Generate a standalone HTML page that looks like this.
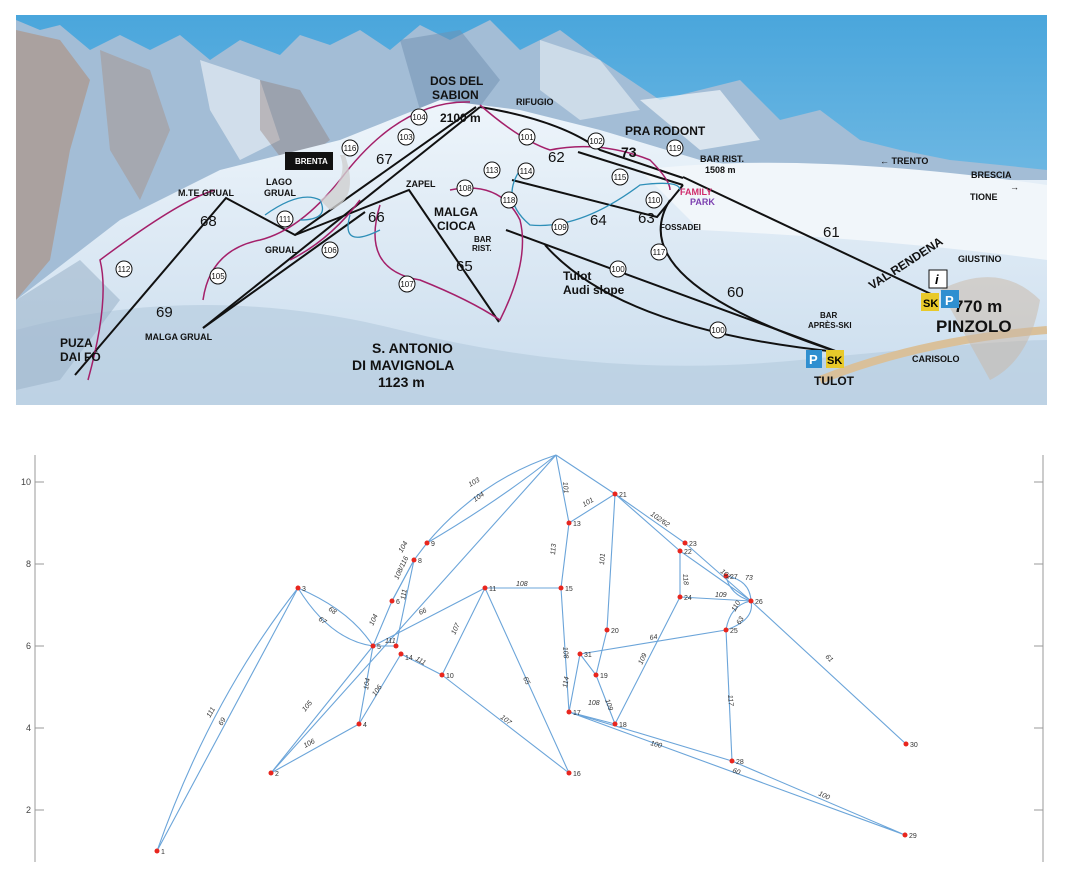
<!DOCTYPE html>
<html><head><meta charset="utf-8"><style>
body{margin:0;background:#fff;width:1082px;height:886px;overflow:hidden;font-family:"Liberation Sans",sans-serif}
svg{position:absolute;left:0;top:0}
</style></head><body>
<svg width="1082" height="886" viewBox="0 0 1082 886" xmlns="http://www.w3.org/2000/svg">
<defs>
<linearGradient id="sky" x1="0" y1="0" x2="0" y2="1"><stop offset="0" stop-color="#4aa6dc"/><stop offset="1" stop-color="#9fd0ec"/></linearGradient>
<linearGradient id="snow" x1="0" y1="0" x2="0" y2="1"><stop offset="0" stop-color="#eef5fb"/><stop offset="1" stop-color="#c9dced"/></linearGradient>
<clipPath id="pc"><rect x="16" y="15" width="1031" height="390"/></clipPath>
</defs>
<g clip-path="url(#pc)">
<rect x="16" y="15" width="1031" height="390" fill="url(#sky)"/>
<path d="M16,20 L40,30 60,25 90,50 120,35 150,50 180,35 210,60 240,40 280,55 300,35 330,45 360,30 390,50 420,25 450,40 490,20 520,50 560,30 600,60 630,80 660,100 700,90 740,80 780,120 820,110 860,140 900,150 950,160 1000,165 1047,170 L1047,405 16,405Z" fill="#a3bdd6"/>
<path d="M16,30 L60,40 90,80 70,150 50,260 16,300Z" fill="#b08a72" opacity=".55"/>
<path d="M100,50 L150,70 170,130 140,200 110,150Z" fill="#a88a78" opacity=".4"/>
<path d="M200,60 L260,80 280,140 240,160 210,110Z" fill="#fff" opacity=".5"/>
<path d="M260,80 L300,90 330,140 290,170 260,130Z" fill="#8d6f63" opacity=".35"/>
<path d="M400,40 L460,30 500,80 470,120 420,110Z" fill="#6f8fb0" opacity=".5"/>
<path d="M540,40 L600,60 640,110 580,120 540,90Z" fill="#fff" opacity=".45"/>
<path d="M640,100 L720,90 760,140 700,150Z" fill="#fff" opacity=".6"/>
<path d="M16,300 L120,220 220,170 340,140 440,100 520,110 600,130 700,160 800,175 900,180 1047,180 L1047,405 16,405Z" fill="url(#snow)"/>
<path d="M640,170 Q800,150 1047,185 L1047,260 Q900,240 700,230Z" fill="#f1f6fa"/>
<path d="M16,330 Q200,280 400,330 T800,360 1047,340 L1047,405 16,405Z" fill="#b8cde0" opacity=".7"/>
<path d="M16,300 L80,260 120,300 60,380 16,390Z" fill="#9fb6cc" opacity=".6"/>
<path d="M820,380 Q920,340 1047,330" stroke="#d9c09a" stroke-width="8" fill="none"/>
<path d="M940,290 Q1000,260 1040,300 1030,360 990,380" fill="#c9b7a6" opacity=".5"/>
<g stroke="#111" stroke-width="2" fill="none">
<path d="M75,375 L226,198 L295,235 L476,107"/>
<path d="M203,328 L480,107"/>
<path d="M203,328 L365,212"/>
<path d="M295,235 L409,190 L499,322"/>
<path d="M480,107 Q560,120 600,150 L683,178"/>
<path d="M578,152 L683,185"/>
<path d="M512,180 L657,217 L683,185"/>
<path d="M683,177 L933,295"/>
<path d="M506,230 L838,352"/>
<path d="M545,245 Q620,330 838,352"/>
<path d="M670,200 Q620,280 838,352"/>
</g>
<g stroke="#a4206a" stroke-width="1.5" fill="none">
<path d="M88,380 Q110,300 100,260 Q180,200 215,190"/>
<path d="M203,300 Q210,250 260,240 Q300,230 340,180 Q400,100 470,102"/>
<path d="M380,205 Q360,270 420,280 Q470,300 500,320 Q530,260 520,220 Q500,180 450,190"/>
<path d="M480,105 Q520,140 550,150 Q600,140 650,160 Q670,180 670,190"/>
<path d="M290,260 Q330,240 360,200"/>
</g>
<g stroke="#2e8fb8" stroke-width="1.3" fill="none">
<path d="M265,215 Q300,190 320,200 Q330,220 300,220"/>
<path d="M350,215 Q340,250 380,230"/>
<path d="M520,170 Q500,200 530,225 Q580,230 640,185 Q680,180 680,190"/>
</g>
<path d="M345,155 Q360,200 330,210 L320,200 Q350,180 340,155Z" fill="#cfcfcf" opacity=".8"/>
<rect x="285" y="152" width="48" height="18" fill="#111"/>
<text x="295" y="164" font-size="8" fill="#fff" font-weight="bold">BRENTA</text>
<g font-weight="bold" fill="#111" font-size="12">
<text x="430" y="85">DOS DEL</text><text x="432" y="99">SABION</text><text x="440" y="122">2100 m</text>
<text x="516" y="105" font-size="9">RIFUGIO</text>
<text x="625" y="135">PRA RODONT</text>
<text x="700" y="162" font-size="9">BAR RIST.</text><text x="705" y="173" font-size="9">1508 m</text>
<text x="621" y="157" font-size="14">73</text>
<text x="434" y="216">MALGA</text><text x="437" y="230">CIOCA</text>
<text x="474" y="242" font-size="8">BAR</text><text x="472" y="251" font-size="8">RIST.</text>
<text x="406" y="187" font-size="9">ZAPEL</text>
<text x="178" y="196" font-size="9">M.TE GRUAL</text>
<text x="266" y="185" font-size="9">LAGO</text><text x="264" y="196" font-size="9">GRUAL</text>
<text x="265" y="253" font-size="9">GRUAL</text>
<text x="145" y="340" font-size="9">MALGA GRUAL</text>
<text x="60" y="347">PUZA</text><text x="60" y="361">DAI FÒ</text>
<text x="372" y="353" font-size="14">S. ANTONIO</text><text x="352" y="370" font-size="14">DI MAVIGNOLA</text><text x="378" y="387" font-size="14">1123 m</text>
<text x="563" y="280">Tulot</text><text x="563" y="294">Audi slope</text>
<text x="660" y="230" font-size="8">FOSSADEI</text>
<text x="880" y="164" font-size="9">← TRENTO</text>
<text x="971" y="178" font-size="9">BRESCIA</text><text x="1010" y="190" font-size="9">→</text>
<text x="970" y="200" font-size="9">TIONE</text>
<text x="958" y="262" font-size="9">GIUSTINO</text>
<text x="954" y="312" font-size="17">770 m</text>
<text x="936" y="332" font-size="17">PINZOLO</text>
<text x="912" y="362" font-size="9">CARISOLO</text>
<text x="820" y="318" font-size="8">BAR</text><text x="808" y="328" font-size="8">APRÈS-SKI</text>
<text x="814" y="385">TULOT</text>
<text x="872" y="290" font-size="12" transform="rotate(-33 872 290)">VAL RENDENA</text>
<text x="200" y="226" font-size="15" font-weight="normal">68</text>
<text x="156" y="317" font-size="15" font-weight="normal">69</text>
<text x="376" y="164" font-size="15" font-weight="normal">67</text>
<text x="368" y="222" font-size="15" font-weight="normal">66</text>
<text x="456" y="271" font-size="15" font-weight="normal">65</text>
<text x="548" y="162" font-size="15" font-weight="normal">62</text>
<text x="590" y="225" font-size="15" font-weight="normal">64</text>
<text x="638" y="223" font-size="15" font-weight="normal">63</text>
<text x="823" y="237" font-size="15" font-weight="normal">61</text>
<text x="727" y="297" font-size="15" font-weight="normal">60</text>
</g>
<text x="680" y="195" font-size="9" font-weight="bold" fill="#d02c6c">FAMILY</text>
<text x="690" y="205" font-size="9" font-weight="bold" fill="#7c3fb0">PARK</text>
<rect x="921" y="293" width="18" height="18" fill="#e8c92a"/><text x="923" y="307" font-size="11" font-weight="bold">SK</text>
<rect x="941" y="290" width="18" height="18" fill="#2f8fd0"/><text x="945" y="305" font-size="13" font-weight="bold" fill="#fff">P</text>
<rect x="929" y="270" width="18" height="18" fill="#fff" stroke="#111"/><text x="935" y="284" font-size="13" font-weight="bold" font-style="italic">i</text>
<rect x="806" y="350" width="16" height="18" fill="#2f8fd0"/><text x="809" y="364" font-size="13" font-weight="bold" fill="#fff">P</text>
<rect x="826" y="350" width="18" height="18" fill="#e8c92a"/><text x="827" y="364" font-size="11" font-weight="bold">SK</text>
<g fill="#fff" stroke="#111" stroke-width="1" font-size="8" text-anchor="middle">
<g><circle cx="124" cy="269" r="8"/><text x="124" y="272" stroke="none" fill="#111">112</text></g>
<g><circle cx="285" cy="219" r="8"/><text x="285" y="222" stroke="none" fill="#111">111</text></g>
<g><circle cx="218" cy="276" r="8"/><text x="218" y="279" stroke="none" fill="#111">105</text></g>
<g><circle cx="330" cy="250" r="8"/><text x="330" y="253" stroke="none" fill="#111">106</text></g>
<g><circle cx="407" cy="284" r="8"/><text x="407" y="287" stroke="none" fill="#111">107</text></g>
<g><circle cx="406" cy="137" r="8"/><text x="406" y="140" stroke="none" fill="#111">103</text></g>
<g><circle cx="419" cy="117" r="8"/><text x="419" y="120" stroke="none" fill="#111">104</text></g>
<g><circle cx="350" cy="148" r="8"/><text x="350" y="151" stroke="none" fill="#111">116</text></g>
<g><circle cx="465" cy="188" r="8"/><text x="465" y="191" stroke="none" fill="#111">108</text></g>
<g><circle cx="492" cy="170" r="8"/><text x="492" y="173" stroke="none" fill="#111">113</text></g>
<g><circle cx="527" cy="137" r="8"/><text x="527" y="140" stroke="none" fill="#111">101</text></g>
<g><circle cx="596" cy="141" r="8"/><text x="596" y="144" stroke="none" fill="#111">102</text></g>
<g><circle cx="526" cy="171" r="8"/><text x="526" y="174" stroke="none" fill="#111">114</text></g>
<g><circle cx="509" cy="200" r="8"/><text x="509" y="203" stroke="none" fill="#111">118</text></g>
<g><circle cx="560" cy="227" r="8"/><text x="560" y="230" stroke="none" fill="#111">109</text></g>
<g><circle cx="620" cy="177" r="8"/><text x="620" y="180" stroke="none" fill="#111">115</text></g>
<g><circle cx="675" cy="148" r="8"/><text x="675" y="151" stroke="none" fill="#111">119</text></g>
<g><circle cx="654" cy="200" r="8"/><text x="654" y="203" stroke="none" fill="#111">110</text></g>
<g><circle cx="659" cy="252" r="8"/><text x="659" y="255" stroke="none" fill="#111">117</text></g>
<g><circle cx="618" cy="269" r="8"/><text x="618" y="272" stroke="none" fill="#111">100</text></g>
<g><circle cx="718" cy="330" r="8"/><text x="718" y="333" stroke="none" fill="#111">100</text></g>
</g>
</g>

<!-- graph -->
<g stroke="#bbb" stroke-width="1.5"><line x1="35" y1="455" x2="35" y2="862"/><line x1="1043" y1="455" x2="1043" y2="862"/></g>
<g stroke="#999"><line x1="35" y1="482" x2="44" y2="482"/><line x1="35" y1="564" x2="44" y2="564"/><line x1="35" y1="646" x2="44" y2="646"/><line x1="35" y1="728" x2="44" y2="728"/><line x1="35" y1="810" x2="44" y2="810"/>
<line x1="1034" y1="482" x2="1043" y2="482"/><line x1="1034" y1="564" x2="1043" y2="564"/><line x1="1034" y1="646" x2="1043" y2="646"/><line x1="1034" y1="728" x2="1043" y2="728"/><line x1="1034" y1="810" x2="1043" y2="810"/></g>
<g font-size="9" fill="#444" text-anchor="end"><text x="31" y="485">10</text><text x="31" y="567">8</text><text x="31" y="649">6</text><text x="31" y="731">4</text><text x="31" y="813">2</text></g>
<g stroke="#5b9bd5" stroke-width="1.1" fill="none" opacity=".9">
<path d="M157,851 Q210,700 298,588"/><path d="M157,851 L298,588"/>
<path d="M271,773 L373,646"/><path d="M271,773 L556,455"/><path d="M271,773 L359,724"/><path d="M359,724 L401,654"/>
<path d="M359,724 L373,646"/><path d="M298,588 Q350,610 373,646"/><path d="M298,588 Q330,640 373,646"/>
<path d="M373,646 L392,601 L414,560 L427,543"/><path d="M392,601 L414,560"/>
<path d="M427,543 Q480,480 556,455"/><path d="M427,543 Q500,500 556,455"/>
<path d="M373,646 L485,588"/><path d="M373,646 L396,646 L414,560"/><path d="M401,654 L442,675 L485,588"/><path d="M442,675 L569,773 L485,588"/>
<path d="M485,588 L561,588"/><path d="M556,455 L569,523 L615,494 L556,455"/><path d="M615,494 L607,630 L596,675"/>
<path d="M569,523 L561,588 L569,712 L580,654 L596,675 L615,724 L569,712"/>
<path d="M569,712 L732,761 L905,835 L569,712"/><path d="M580,654 L726,630"/>
<path d="M615,724 L680,597 L680,551"/><path d="M680,597 L751,601"/>
<path d="M615,494 L685,543 L751,601"/><path d="M615,494 L680,551 L751,601"/>
<path d="M726,576 Q750,580 751,601"/><path d="M726,576 Q730,595 751,601"/>
<path d="M751,601 Q730,605 726,630"/><path d="M751,601 Q755,620 726,630"/>
<path d="M726,630 L732,761"/><path d="M751,601 L906,744"/>
</g>
<g fill="#e8261e">
<circle cx="157" cy="851" r="2.5"/><circle cx="271" cy="773" r="2.5"/><circle cx="298" cy="588" r="2.5"/><circle cx="359" cy="724" r="2.5"/><circle cx="373" cy="646" r="2.5"/><circle cx="392" cy="601" r="2.5"/><circle cx="414" cy="560" r="2.5"/><circle cx="427" cy="543" r="2.5"/><circle cx="442" cy="675" r="2.5"/><circle cx="485" cy="588" r="2.5"/><circle cx="396" cy="646" r="2.5"/><circle cx="569" cy="523" r="2.5"/><circle cx="401" cy="654" r="2.5"/><circle cx="561" cy="588" r="2.5"/><circle cx="569" cy="773" r="2.5"/><circle cx="569" cy="712" r="2.5"/><circle cx="615" cy="724" r="2.5"/><circle cx="596" cy="675" r="2.5"/><circle cx="607" cy="630" r="2.5"/><circle cx="615" cy="494" r="2.5"/><circle cx="680" cy="551" r="2.5"/><circle cx="685" cy="543" r="2.5"/><circle cx="680" cy="597" r="2.5"/><circle cx="726" cy="630" r="2.5"/><circle cx="751" cy="601" r="2.5"/><circle cx="726" cy="576" r="2.5"/><circle cx="732" cy="761" r="2.5"/><circle cx="905" cy="835" r="2.5"/><circle cx="906" cy="744" r="2.5"/><circle cx="580" cy="654" r="2.5"/>
</g>
<g font-size="7" fill="#333">
<text x="161" y="854">1</text><text x="275" y="776">2</text><text x="302" y="591">3</text><text x="363" y="727">4</text><text x="377" y="649">5</text><text x="396" y="604">6</text><text x="418" y="563">8</text><text x="431" y="546">9</text><text x="446" y="678">10</text><text x="489" y="591">11</text><text x="573" y="526">13</text><text x="405" y="660">14</text><text x="565" y="591">15</text><text x="573" y="776">16</text><text x="573" y="715">17</text><text x="619" y="727">18</text><text x="600" y="678">19</text><text x="611" y="633">20</text><text x="619" y="497">21</text><text x="684" y="554">22</text><text x="689" y="546">23</text><text x="684" y="600">24</text><text x="730" y="633">25</text><text x="755" y="604">26</text><text x="730" y="579">27</text><text x="736" y="764">28</text><text x="909" y="838">29</text><text x="910" y="747">30</text><text x="584" y="657">31</text>
</g>
<g font-size="7" fill="#333" font-style="italic">
<text x="210" y="718" transform="rotate(-60 210 718)">111</text><text x="222" y="726" transform="rotate(-60 222 726)">69</text>
<text x="305" y="712" transform="rotate(-50 305 712)">105</text><text x="305" y="748" transform="rotate(-28 305 748)">106</text>
<text x="368" y="690" transform="rotate(-80 368 690)">104</text><text x="372" y="690" transform="rotate(-55 380 690)">106</text>
<text x="328" y="610" transform="rotate(35 328 610)">68</text><text x="318" y="620" transform="rotate(35 318 620)">67</text>
<text x="373" y="626" transform="rotate(-65 373 626)">104</text><text x="385" y="643">111</text><text x="420" y="615" transform="rotate(-25 420 615)">66</text>
<text x="398" y="580" transform="rotate(-65 398 580)">108/116</text><text x="405" y="600" transform="rotate(-80 405 600)">111</text>
<text x="402" y="553" transform="rotate(-60 402 553)">104</text>
<text x="470" y="487" transform="rotate(-30 470 487)">103</text><text x="475" y="502" transform="rotate(-35 475 502)">104</text>
<text x="415" y="660" transform="rotate(30 415 660)">111</text><text x="455" y="635" transform="rotate(-65 455 635)">107</text>
<text x="523" y="678" transform="rotate(65 523 678)">65</text><text x="500" y="718" transform="rotate(38 500 718)">107</text>
<text x="516" y="586">108</text><text x="563" y="482" transform="rotate(85 563 482)">101</text><text x="584" y="507" transform="rotate(-30 584 507)">101</text>
<text x="555" y="555" transform="rotate(-85 555 555)">113</text><text x="604" y="565" transform="rotate(-85 604 565)">101</text>
<text x="563" y="647" transform="rotate(85 563 647)">108</text><text x="567" y="688" transform="rotate(-80 567 688)">114</text>
<text x="588" y="705">108</text><text x="605" y="700" transform="rotate(70 605 700)">109</text>
<text x="650" y="745" transform="rotate(15 650 745)">100</text><text x="732" y="772" transform="rotate(20 732 772)">60</text><text x="818" y="795" transform="rotate(25 818 795)">100</text>
<text x="650" y="640" transform="rotate(-10 650 640)">64</text><text x="642" y="665" transform="rotate(-65 642 665)">109</text>
<text x="683" y="574" transform="rotate(85 683 574)">118</text><text x="715" y="597">109</text>
<text x="650" y="515" transform="rotate(35 650 515)">102/62</text><text x="720" y="572" transform="rotate(40 720 572)">101</text><text x="745" y="580">73</text>
<text x="735" y="612" transform="rotate(-60 735 612)">110</text><text x="740" y="625" transform="rotate(-60 740 625)">63</text>
<text x="728" y="695" transform="rotate(85 728 695)">117</text><text x="825" y="657" transform="rotate(45 825 657)">61</text>
</g>
</svg>
</body></html>
